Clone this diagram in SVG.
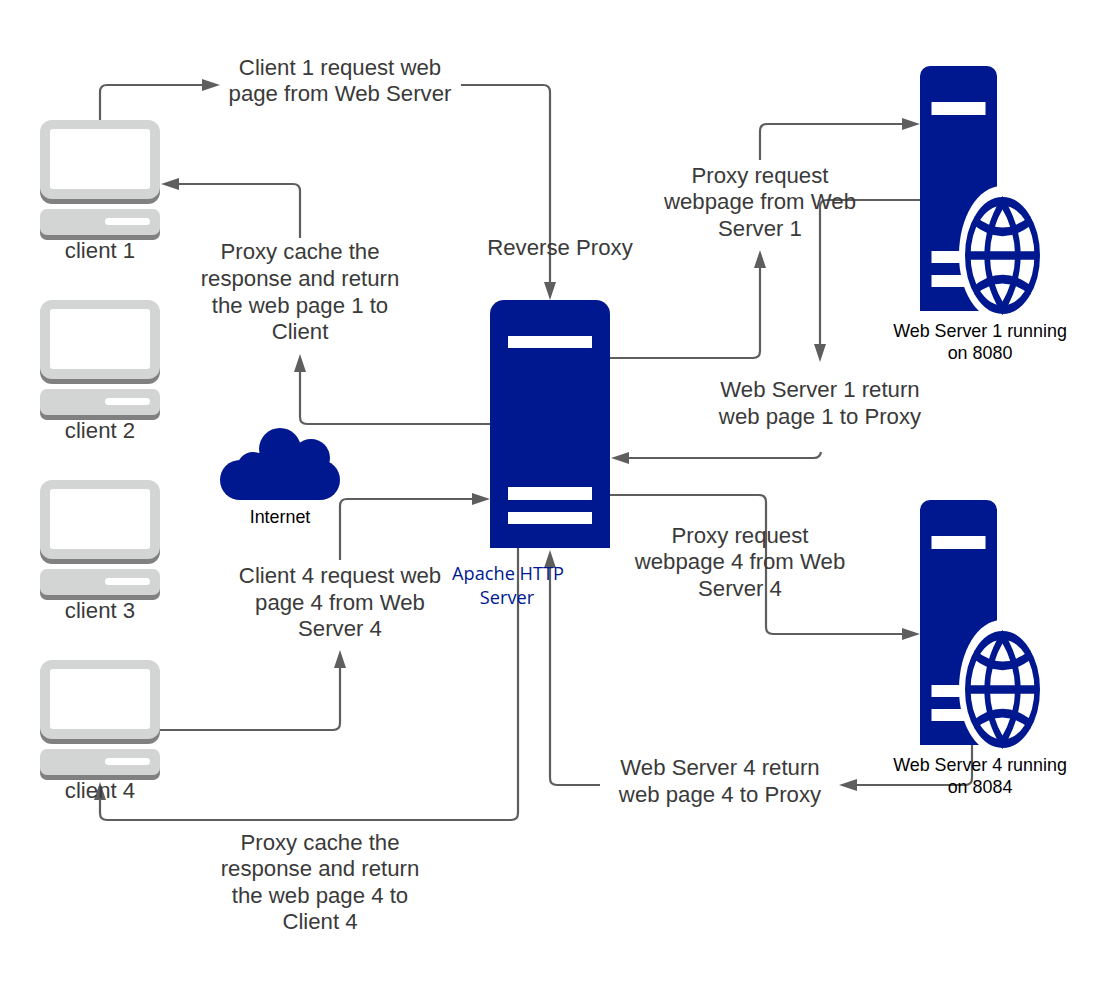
<svg xmlns="http://www.w3.org/2000/svg" xmlns:xlink="http://www.w3.org/1999/xlink" width="1111" height="983" viewBox="0 0 1111 983">
<style>
text{font-family:"Liberation Sans",Arial,sans-serif;text-anchor:middle}
.t{font-size:22.2px;fill:#3a3a3a}
.s{font-size:17.9px;fill:#000}
.ap{font-family:"Open Sans","Noto Sans",sans-serif;font-size:18.2px;fill:#00188f}
.c{fill:none;stroke:#5e5e5e;stroke-width:2.2}
.a{fill:#5e5e5e;stroke:none}
.n{fill:#00188f}
.w{fill:#fff}
.m1{fill:#d3d4d4}
.m2{fill:#808080}
.g{fill:none;stroke:#00188f;stroke-width:5.600}
</style>
<defs>
<g id="pc">
<rect class="m2" x="0" y="6" width="120" height="78" rx="12"/>
<rect class="m1" x="0" y="0" width="120" height="79" rx="12"/>
<rect class="w" x="10" y="9" width="100" height="60" rx="3"/>
<rect class="m2" x="0" y="92" width="120" height="28" rx="7"/>
<rect class="m1" x="0" y="89" width="120" height="26" rx="7"/>
<rect class="w" x="65" y="98" width="45" height="7" rx="3.500"/>
</g>
<g id="srv">
<path class="n" d="M0 10a10 10 0 0 1 10-10h57a10 10 0 0 1 10 10v235H0z"/>
<rect class="w" x="11.500" y="36" width="54" height="13"/>
<rect class="w" x="11.500" y="185" width="54" height="12"/>
<rect class="w" x="11.500" y="209" width="54" height="12"/>
<path class="w" d="M82 120c-24 0-43 31-43 69c0 24 8 45 20 56h23z"/>
<path class="w" d="M82 132a34.500 55.500 0 0 1 0 114a34.500 55.500 0 0 1 0-114z"/>
<g transform="translate(82.500 189.500) scale(1 1.560)">
<circle class="g" r="34.700"/>
<path class="g" d="M0-34C20.500-12 20.500 12 0 34C-20.500 12-20.500-12 0-34z"/>
<path class="g" d="M-35 0H35M-29-22.800Q0-7.500 29-22.800M-29 22.800Q0 7.500 29 22.800"/>
</g>
</g>
</defs>

<g id="connectors">
<path class="c" d="M100 120V92q0-7 7-7H206"/>
<path class="a" d="M220 85l-18-6v12z"/>
<path class="c" d="M461 85H543q7 0 7 7V286"/>
<path class="a" d="M550 300l-6-18h12z"/>
<path class="c" d="M300 238V191q0-7-7-7H175"/>
<path class="a" d="M161 184l18-6v12z"/>
<path class="c" d="M490 424H307q-7 0-7-7V368"/>
<path class="a" d="M300 354l-6 18h12z"/>
<path class="c" d="M340 560V506q0-7 7-7H476"/>
<path class="a" d="M490 499l-18-6v12z"/>
<path class="c" d="M160 730H333q7 0 7-7V664"/>
<path class="a" d="M340 650l-6 18h12z"/>
<path class="c" d="M518 548V813q0 7-7 7H107q-7 0-7-7V796"/>
<path class="a" d="M100 782l-6 18h12z"/>
<path class="c" d="M600 785H557q-7 0-7-7V564"/>
<path class="a" d="M550 550l-6 18h12z"/>
<path class="c" d="M972 745V778q0 7-7 7H853"/>
<path class="a" d="M839 785l18-6v12z"/>
<path class="c" d="M610 358H753q7 0 7-7V264"/>
<path class="a" d="M760 250l-6 18h12z"/>
<path class="c" d="M760 160V131q0-7 7-7H906"/>
<path class="a" d="M920 124l-18-6v12z"/>
<path class="c" d="M920 200H827q-7 0-7 7V348"/>
<path class="a" d="M820 362l-6-18h12z"/>
<path class="c" d="M821 452q-1 6-7 6H625"/>
<path class="a" d="M611 458l18-6v12z"/>
<path class="c" d="M610 495H759q7 0 7 7V627q0 7 7 7H906"/>
<path class="a" d="M920 634l-18-6v12z"/>
</g>

<g id="client1"><use xlink:href="#pc" href="#pc" x="40" y="120"/><text class="t" x="100" y="258">client 1</text></g>
<g id="client2"><use xlink:href="#pc" href="#pc" x="40" y="300"/><text class="t" x="100" y="438">client 2</text></g>
<g id="client3"><use xlink:href="#pc" href="#pc" x="40" y="480"/><text class="t" x="100" y="618">client 3</text></g>
<g id="client4"><use xlink:href="#pc" href="#pc" x="40" y="660"/><text class="t" x="100" y="798">client 4</text></g>

<g id="webserver1"><use xlink:href="#srv" href="#srv" x="920" y="66"/><text class="s" x="980" y="337">Web Server 1 running</text><text class="s" x="980" y="359">on 8080</text></g>
<g id="webserver4"><use xlink:href="#srv" href="#srv" x="920" y="500"/><text class="s" x="980" y="771">Web Server 4 running</text><text class="s" x="980" y="793">on 8084</text></g>

<g id="apache">
<path class="n" d="M490 314a14 14 0 0 1 14-14h92a14 14 0 0 1 14 14V548H490z"/>
<rect class="w" x="508" y="336" width="84" height="12"/>
<rect class="w" x="508" y="487" width="84" height="13"/>
<rect class="w" x="508" y="512" width="84" height="12"/>
<text class="ap" x="508" y="580">Apache HTTP</text>
<text class="ap" x="507" y="604">Server</text>
</g>

<g id="internet">
<circle class="n" cx="240" cy="480" r="20"/>
<circle class="n" cx="253" cy="468" r="16"/>
<circle class="n" cx="280" cy="449" r="21"/>
<circle class="n" cx="311" cy="458" r="19"/>
<circle class="n" cx="320" cy="480" r="20"/>
<path class="n" d="M240 500V460L262 452L300 452L320 460V500z"/>
<text class="s" x="280" y="523">Internet</text>
</g>

<g id="labels">
<text class="t" x="340" y="75">Client 1 request web</text>
<text class="t" x="340" y="101">page from Web Server</text>
<text class="t" x="300" y="259">Proxy cache the</text>
<text class="t" x="300" y="286">response and return</text>
<text class="t" x="300" y="313">the web page 1 to</text>
<text class="t" x="300" y="339">Client</text>
<text class="t" x="560" y="255">Reverse Proxy</text>
<text class="t" x="760" y="183">Proxy request</text>
<text class="t" x="760" y="209">webpage from Web</text>
<text class="t" x="760" y="236">Server 1</text>
<text class="t" x="820" y="397">Web Server 1 return</text>
<text class="t" x="820" y="424">web page 1 to Proxy</text>
<text class="t" x="740" y="543">Proxy request</text>
<text class="t" x="740" y="569">webpage 4 from Web</text>
<text class="t" x="740" y="596">Server 4</text>
<text class="t" x="340" y="583">Client 4 request web</text>
<text class="t" x="340" y="610">page 4 from Web</text>
<text class="t" x="340" y="636">Server 4</text>
<text class="t" x="720" y="775">Web Server 4 return</text>
<text class="t" x="720" y="802">web page 4 to Proxy</text>
<text class="t" x="320" y="850">Proxy cache the</text>
<text class="t" x="320" y="876">response and return</text>
<text class="t" x="320" y="903">the web page 4 to</text>
<text class="t" x="320" y="929">Client 4</text>
</g>
</svg>
